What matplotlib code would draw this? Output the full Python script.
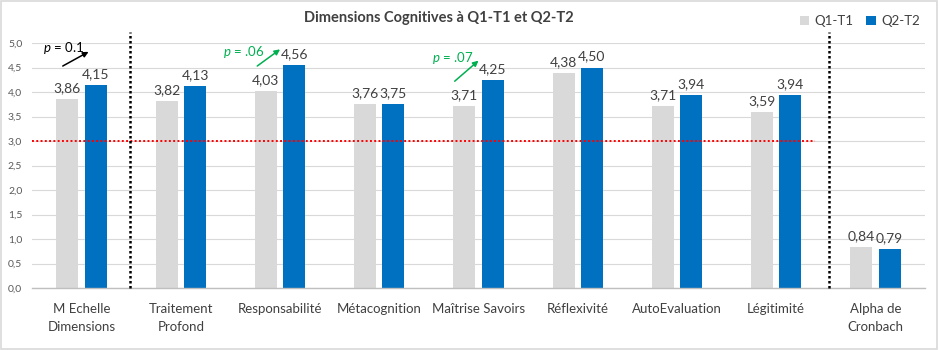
import numpy as np
import matplotlib
matplotlib.use("Agg")
import matplotlib.pyplot as plt
from matplotlib.patches import Rectangle

plt.rcParams["font.family"] = ["Lato", "DejaVu Sans"]
plt.rcParams["mathtext.fontset"] = "custom"
plt.rcParams["mathtext.it"] = "Lato:italic"
plt.rcParams["mathtext.rm"] = "Lato"

categories = ["M Echelle\nDimensions", "Traitement\nProfond", "Responsabilité",
              "Métacognition", "Maîtrise Savoirs", "Réflexivité",
              "AutoEvaluation", "Légitimité", "Alpha de\nCronbach"]
q1_t1 = [3.86, 3.82, 4.03, 3.76, 3.71, 4.38, 3.71, 3.59, 0.84]
q2_t2 = [4.15, 4.13, 4.56, 3.75, 4.25, 4.50, 3.94, 3.94, 0.79]
y_ticks = [0.0, 0.5, 1.0, 1.5, 2.0, 2.5, 3.0, 3.5, 4.0, 4.5, 5.0]

# p-value annotations: (text, text x, text y, arrow tail, arrow head, colour)
p_notes = [
    ("0.1", -0.18, 4.90, (-0.19, 4.53), (0.07, 4.82), "black"),
    (".06", 1.63, 4.82, (1.77, 4.53), (2.00, 4.87), "#00B050"),
    (".07", 3.74, 4.69, (3.76, 4.22), (4.00, 4.64), "#00B050"),
]

GREY = "#D9D9D9"
BLUE = "#0070C0"
TXT = "#404040"

fig = plt.figure(figsize=(9.39, 3.5), dpi=100)
ax = fig.add_axes([32 / 939, 62 / 350, 893 / 939, 245 / 350])

x = np.arange(len(categories))
w = 0.222
off = 0.143
b1 = ax.bar(x - off, q1_t1, w, color=GREY, label="Q1-T1", zorder=2)
b2 = ax.bar(x + off, q2_t2, w, color=BLUE, label="Q2-T2", zorder=2)

for bars, vals in ((b1, q1_t1), (b2, q2_t2)):
    for r, v in zip(bars, vals):
        ax.annotate(f"{v:.2f}".replace(".", ","),
                    (r.get_x() + r.get_width() / 2, v),
                    xytext=(0, 3.5), textcoords="offset points",
                    ha="center", va="bottom", fontsize=10, color=TXT)

ax.set_xlim(-0.5, len(categories) - 0.5)
ax.set_ylim(0, 5.0)
ax.set_yticks(y_ticks)
ax.set_yticklabels([f"{t:.1f}".replace(".", ",") for t in y_ticks],
                   fontsize=7.5, color="#595959")
ax.set_xticks(x)
ax.set_xticklabels(categories, fontsize=9.5, color=TXT, linespacing=1.55)
ax.tick_params(axis="x", length=0, pad=11)
ax.tick_params(axis="y", length=0, pad=7)
ax.grid(axis="y", color=GREY, lw=0.8, zorder=0)
for s in ("top", "right", "left"):
    ax.spines[s].set_visible(False)
ax.spines["bottom"].set_color("#BFBFBF")
ax.spines["bottom"].set_linewidth(1.0)

# reference line at 3.0
ax.plot([-0.5, 7.39], [3.0, 3.0], color="#FF0000", ls=(0, (1, 1.2)), lw=1.4, zorder=3)
# separators
for xs in (0.49, 7.53):
    ax.plot([xs, xs], [0, 5.22], color="black", ls=(0, (1, 1)), lw=1.8,
            clip_on=False, zorder=3)

for txt, tx, ty, tail, head, col in p_notes:
    ax.text(tx, ty, f"$p$ = {txt}", ha="center", va="center", fontsize=9.5, color=col)
    ax.annotate("", xy=head, xytext=tail,
                arrowprops=dict(arrowstyle="-|>", color=col, lw=1.1,
                                mutation_scale=8, shrinkA=0, shrinkB=0))

fig.text(439 / 939, 1 - 18 / 350, "Dimensions Cognitives à Q1-T1 et Q2-T2",
         ha="center", va="center", fontsize=10.5, fontweight="bold", color=TXT)
ax.legend(loc="upper right", bbox_to_anchor=(1.0, 1.135), frameon=False, ncol=2,
          fontsize=9.5, handlelength=0.7, handleheight=0.7, handletextpad=0.4,
          columnspacing=1.0, labelcolor=TXT, borderaxespad=0)

fig.patches.append(Rectangle((0.001, 0.002), 0.997, 0.995, transform=fig.transFigure,
                             fill=False, edgecolor="#D9D9D9", lw=1.2))

fig.savefig("out.png", dpi=100)
